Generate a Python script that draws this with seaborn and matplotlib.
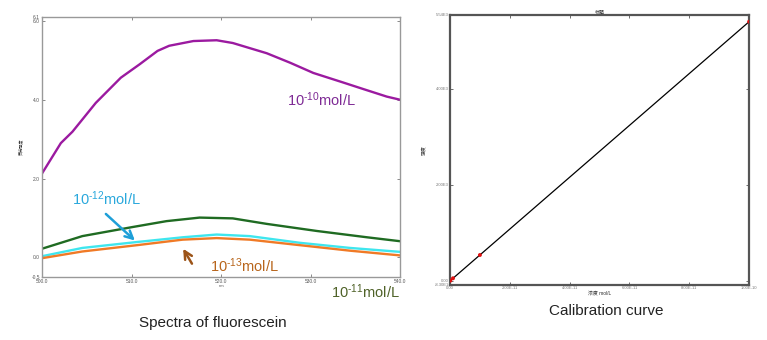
import numpy as np
import pandas as pd
import matplotlib
matplotlib.use("Agg")
import matplotlib.pyplot as plt
import seaborn as sns

sns.set_theme(style="white")
plt.rcParams['font.family'] = ['Liberation Sans', 'Noto Sans CJK SC', 'DejaVu Sans']
plt.rcParams['mathtext.fontset'] = 'custom'
plt.rcParams['mathtext.rm'] = 'Liberation Sans'
plt.rcParams['mathtext.it'] = 'Liberation Sans:italic'
plt.rcParams['mathtext.bf'] = 'Liberation Sans:bold'

# ---- Spectra data (wavelength nm, intensity) ----
wl_1e10 = [500.0, 502.1, 503.4, 506.0, 508.8, 510.9, 512.9, 514.2, 516.9, 519.5,
           521.3, 525.1, 527.7, 530.3, 533.6, 535.9, 538.5, 540.0]
int_1e10 = [2.13, 2.90, 3.19, 3.92, 4.56, 4.90, 5.24, 5.37, 5.49, 5.51,
            5.44, 5.18, 4.94, 4.68, 4.44, 4.27, 4.08, 4.00]
wl_1e11 = [500.0, 504.5, 510.1, 513.9, 517.6, 521.3, 525.1, 530.7, 536.3, 540.0]
int_1e11 = [0.22, 0.54, 0.77, 0.92, 1.01, 0.99, 0.85, 0.67, 0.51, 0.41]
wl_1e12 = [500.0, 504.5, 510.6, 515.7, 519.5, 523.2, 528.8, 534.4, 540.0]
int_1e12 = [0.03, 0.24, 0.39, 0.51, 0.58, 0.54, 0.37, 0.24, 0.14]
wl_1e13 = [500.0, 504.5, 510.6, 515.7, 519.5, 523.2, 528.8, 534.4, 540.0]
int_1e13 = [-0.02, 0.15, 0.31, 0.45, 0.49, 0.45, 0.31, 0.17, 0.05]

spec_x_ticks = [500, 510, 520, 530, 540]
spec_x_labels = ["500.0", "510.0", "520.0", "530.0", "540.0"]
spec_y_ticks = [-0.5, 0.0, 2.0, 4.0, 6.0, 6.1]
spec_y_labels = ["-0.5", "0.0", "2.0", "4.0", "6.0", "6.1"]

# ---- Calibration data ----
cal_conc = [1e-13, 1e-12, 1e-11, 1e-10]
cal_int = [6, 55, 540, 5400]
cal_x_ticks = [0, 2e-11, 4e-11, 6e-11, 8e-11, 1e-10]
cal_x_labels = ["0.00", "2.00E-11", "4.00E-11", "6.00E-11", "8.00E-11", "1.00E-10"]
cal_y_ticks = [-83, 0, 2000, 4000, 5540]
cal_y_labels = ["-8.30E1", "0.00", "2.00E3", "4.00E3", "5.54E3"]

fig = plt.figure(figsize=(7.67, 3.40), dpi=100)

# ---------- Left: spectra ----------
ax1 = fig.add_axes([0.0548, 0.185, 0.467, 0.765])
series = [
    (wl_1e10, int_1e10, "#9B1AA0"),
    (wl_1e11, int_1e11, "#1F6B22"),
    (wl_1e12, int_1e12, "#3FE6EE"),
    (wl_1e13, int_1e13, "#F07A26"),
]
for wx, wy, col in series:
    sns.lineplot(x=wx, y=wy, color=col, linewidth=1.7, ax=ax1)
ax1.set_xlim(500, 540)
ax1.set_ylim(-0.5, 6.1)
ax1.set_xticks(spec_x_ticks)
ax1.set_xticklabels(spec_x_labels)
ax1.set_yticks(spec_y_ticks)
ax1.set_yticklabels(spec_y_labels)
ax1.tick_params(axis='both', labelsize=3.5, labelcolor='#555555', length=2,
                width=0.6, color='#777777', direction='in', pad=1.5,
                top=True, right=True, bottom=True, left=True)
for s in ax1.spines.values():
    s.set_color('#999999')
    s.set_linewidth(1.0)
ax1.set_xlabel("nm", fontsize=3, color='#555555', labelpad=0)
ax1.set_ylabel("荧光强度", fontsize=3, color='#333333', labelpad=6)

fs = 10.5
ax1.text(527.4, 4.0, r"10$^{\text{-10}}$mol/L", color="#7E2A95", fontsize=fs,
         ha='left', va='center')
ax1.text(503.4, 1.5, r"10$^{\text{-12}}$mol/L", color="#2AA8DC", fontsize=fs,
         ha='left', va='center')
ax1.annotate("", xy=(510.6, 0.38), xytext=(506.9, 1.15),
             arrowprops=dict(arrowstyle="->", color="#1E9FD8", lw=1.8,
                             mutation_scale=14))
ax1.text(518.8, -0.2, r"10$^{\text{-13}}$mol/L", color="#B8651B", fontsize=fs,
         ha='left', va='center')
ax1.annotate("", xy=(515.6, 0.28), xytext=(516.9, -0.22),
             arrowprops=dict(arrowstyle="->", color="#9C5418", lw=1.8,
                             mutation_scale=14))
ax1.text(532.3, -0.88, r"10$^{\text{-11}}$mol/L", color="#4F6228", fontsize=fs,
         ha='left', va='center', clip_on=False)

fig.text(213 / 767, 1 - 323 / 340, "Spectra of fluorescein", fontsize=11,
         ha='center', va='center', color='#222222')

# ---------- Right: calibration ----------
ax2 = fig.add_axes([0.5867, 0.162, 0.39, 0.794])
fit = np.polyfit(cal_conc, cal_int, 1)
fit_x = [0, cal_x_ticks[-1]]
fit_y = list(np.polyval(fit, fit_x))
sns.lineplot(x=fit_x, y=fit_y, color="black", linewidth=0.9, ax=ax2)
sns.scatterplot(x=cal_conc, y=cal_int, color="#E01010", s=8, edgecolor='none',
                ax=ax2, zorder=3)
ax2.set_xlim(0, 1e-10)
ax2.set_ylim(-83, 5540)
ax2.set_xticks(cal_x_ticks)
ax2.set_xticklabels(cal_x_labels)
ax2.set_yticks(cal_y_ticks)
ax2.set_yticklabels(cal_y_labels)
ax2.tick_params(axis='both', labelsize=3, labelcolor='#777777', length=2,
                width=0.6, color='#555555', direction='in', pad=1,
                top=True, right=True, bottom=True, left=True)
for s in ax2.spines.values():
    s.set_color('#555555')
    s.set_linewidth(1.6)
ax2.set_xlabel("浓度 mol/L", fontsize=3.5, color='#333333', labelpad=0)
ax2.set_ylabel("强度", fontsize=3.5, color='#333333', labelpad=6)
ax2.set_title("标题", fontsize=3.5, color='#333333', pad=1)

fig.text(606 / 767, 1 - 311 / 340, "Calibration curve", fontsize=11,
         ha='center', va='center', color='#222222')

fig.savefig("out.png", dpi=100)
